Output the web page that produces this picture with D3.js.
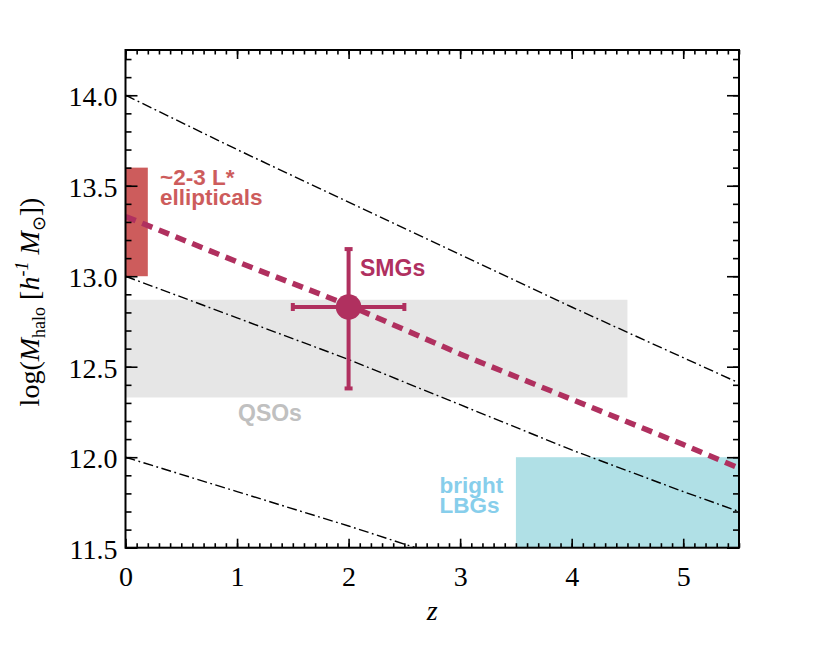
<!DOCTYPE html>
<html><head><meta charset="utf-8">
<script src="https://cdn.jsdelivr.net/npm/d3@7"></script>
<style>body{margin:0;background:#fff}svg{display:block}</style>
</head><body>
<script>
// ---- data ----
const xTickValues = [0, 1, 2, 3, 4, 5];
const yTickValues = [11.5, 12.0, 12.5, 13.0, 13.5, 14.0];
const yTickLabels = ["11.5", "12.0", "12.5", "13.0", "13.5", "14.0"];

const trackZ      = [0, 1, 2, 3, 4, 5, 5.5];
const trackHigh   = [14.0, 13.70, 13.41, 13.12, 12.83, 12.55, 12.41];
const trackMid    = [13.0, 12.77, 12.54, 12.29, 12.04, 11.81, 11.70];
const trackLow    = [12.0, 11.81, 11.62, 11.42, 11.22, 11.02, 10.92];
const smgTrack    = [13.33, 13.08, 12.84, 12.57, 12.32, 12.07, 11.94];

const smgPoint = {z: 2.0, m: 12.83, zLo: 1.5, zHi: 2.5, mLo: 12.38, mHi: 13.15};
const regions = [
  {name: "ellipticals", z0: 0, z1: 0.2, m0: 13.0, m1: 13.6},
  {name: "QSOs", z0: 0, z1: 4.5, m0: 12.33, m1: 12.87},
  {name: "LBGs", z0: 3.5, z1: 5.5, m0: 11.5, m1: 12.0}
];

// ---- layout ----
const W = 830, H = 648;
const x = d3.scaleLinear().domain([0, 5.5]).range([125.5, 739]);
const y = d3.scaleLinear().domain([11.5, 14.25]).range([547.7, 50]);

const svg = d3.select("body").append("svg").attr("width", W).attr("height", H);

svg.append("defs").append("clipPath").attr("id", "clip")
  .append("rect").attr("x", x(0)).attr("y", y(14.25))
  .attr("width", x(5.5) - x(0)).attr("height", y(11.5) - y(14.25));

const plot = svg.append("g").attr("clip-path", "url(#clip)");

const regionColors = {ellipticals: "#cd5c5c", QSOs: "#e6e6e6", LBGs: "#b0e0e6"};
plot.selectAll("rect.region").data(regions).join("rect")
  .attr("class", "region")
  .attr("x", d => x(d.z0)).attr("width", d => x(d.z1) - x(d.z0))
  .attr("y", d => y(d.m1)).attr("height", d => y(d.m0) - y(d.m1))
  .attr("fill", d => regionColors[d.name]);

const line = d3.line().x((d, i) => x(trackZ[i])).y(d => y(d));
[trackHigh, trackMid, trackLow].forEach(t => {
  plot.append("path").datum(t).attr("d", line)
    .attr("fill", "none").attr("stroke", "#000").attr("stroke-width", 1.4)
    .attr("stroke-dasharray", "10,3.5,1.8,3.5");
});
plot.append("path").datum(smgTrack).attr("d", line)
  .attr("fill", "none").attr("stroke", "#b0305f").attr("stroke-width", 5.5)
  .attr("stroke-dasharray", "11,7");

// SMG point with error bars
const smgC = "#b0305f";
const eb = svg.append("g").attr("stroke", smgC).attr("stroke-width", 4);
eb.append("line").attr("x1", x(smgPoint.zLo)).attr("x2", x(smgPoint.zHi))
  .attr("y1", y(smgPoint.m)).attr("y2", y(smgPoint.m));
eb.append("line").attr("x1", x(smgPoint.z)).attr("x2", x(smgPoint.z))
  .attr("y1", y(smgPoint.mLo)).attr("y2", y(smgPoint.mHi));
eb.append("line").attr("x1", x(smgPoint.zLo)).attr("x2", x(smgPoint.zLo))
  .attr("y1", y(smgPoint.m) - 4).attr("y2", y(smgPoint.m) + 4);
eb.append("line").attr("x1", x(smgPoint.zHi)).attr("x2", x(smgPoint.zHi))
  .attr("y1", y(smgPoint.m) - 4).attr("y2", y(smgPoint.m) + 4);
eb.append("line").attr("x1", x(smgPoint.z) - 4).attr("x2", x(smgPoint.z) + 4)
  .attr("y1", y(smgPoint.mLo)).attr("y2", y(smgPoint.mLo));
eb.append("line").attr("x1", x(smgPoint.z) - 4).attr("x2", x(smgPoint.z) + 4)
  .attr("y1", y(smgPoint.mHi)).attr("y2", y(smgPoint.mHi));
svg.append("circle").attr("cx", x(smgPoint.z)).attr("cy", y(smgPoint.m))
  .attr("r", 12.8).attr("fill", smgC);

// labels
const sans = "Liberation Sans, Arial, Helvetica, sans-serif";
function label(lines, xp, yp, color, lh, fs) {
  const t = svg.append("text").attr("font-family", sans).attr("font-weight", "bold")
    .attr("font-size", fs).attr("fill", color);
  lines.forEach((s, i) => t.append("tspan").attr("x", xp).attr("y", yp + i * lh).text(s));
}
label(["~2-3 L*", "ellipticals"], 160, 185, "#cd5c5c", 20, 22.5);
label(["SMGs"], 360, 276, smgC, 20, 23);
label(["QSOs"], 238, 421, "#c0c0c0", 20, 23);
label(["bright", "LBGs"], 439.5, 493, "#87ceeb", 19.6, 22.5);

// ---- axes ----
const serif = "Liberation Serif, Times New Roman, Times, serif";
const minorX = d3.range(0, 5.5001, 0.1).map(v => +v.toFixed(2));
const minorY = d3.range(11.5, 14.2501, 0.1).map(v => +v.toFixed(2));

function styleAxis(g) {
  g.attr("font-family", serif);
  g.select(".domain").remove();
  g.selectAll("line").attr("stroke", "#000").attr("stroke-width", 1.6);
}
// bottom
svg.append("g").attr("transform", `translate(0,${y(11.5)})`)
  .call(d3.axisBottom(x).tickValues(minorX).tickSize(-4.5).tickFormat(""))
  .call(styleAxis);
const bAx = svg.append("g").attr("transform", `translate(0,${y(11.5)})`)
  .call(d3.axisBottom(x).tickValues(xTickValues).tickSize(-9).tickFormat(d3.format("d")))
  .call(styleAxis);
bAx.attr("font-size", 28);
bAx.selectAll("text").attr("fill", "#000").attr("y", 38).attr("dy", 0);
// top
svg.append("g").attr("transform", `translate(0,${y(14.25)})`)
  .call(d3.axisTop(x).tickValues(minorX).tickSize(-4.5).tickFormat(""))
  .call(styleAxis);
svg.append("g").attr("transform", `translate(0,${y(14.25)})`)
  .call(d3.axisTop(x).tickValues(xTickValues).tickSize(-9).tickFormat(""))
  .call(styleAxis);
// left
svg.append("g").attr("transform", `translate(${x(0)},0)`)
  .call(d3.axisLeft(y).tickValues(minorY).tickSize(-6).tickFormat(""))
  .call(styleAxis);
const lAx = svg.append("g").attr("transform", `translate(${x(0)},0)`)
  .call(d3.axisLeft(y).tickValues(yTickValues).tickSize(-12)
    .tickFormat((d, i) => yTickLabels[i]))
  .call(styleAxis);
lAx.attr("font-size", 28);
lAx.selectAll("text").attr("fill", "#000").attr("x", -8).attr("dy", "0.38em");
// right
svg.append("g").attr("transform", `translate(${x(5.5)},0)`)
  .call(d3.axisRight(y).tickValues(minorY).tickSize(-6).tickFormat(""))
  .call(styleAxis);
svg.append("g").attr("transform", `translate(${x(5.5)},0)`)
  .call(d3.axisRight(y).tickValues(yTickValues).tickSize(-12).tickFormat(""))
  .call(styleAxis);

// frame
svg.append("rect").attr("x", x(0)).attr("y", y(14.25))
  .attr("width", x(5.5) - x(0)).attr("height", y(11.5) - y(14.25))
  .attr("fill", "none").attr("stroke", "#000").attr("stroke-width", 2);

// axis titles
svg.append("text").attr("x", (x(0) + x(5.5)) / 2).attr("y", 620)
  .attr("text-anchor", "middle").attr("font-family", serif).attr("font-style", "italic")
  .attr("font-size", 28).text("z");

const yl = svg.append("text").attr("transform", "translate(39,302) rotate(-90)")
  .attr("text-anchor", "middle").attr("font-family", serif).attr("font-size", 28);
yl.append("tspan").text("log(");
yl.append("tspan").attr("font-style", "italic").text("M");
yl.append("tspan").attr("font-size", 18).attr("dy", 6).text("halo");
yl.append("tspan").attr("dy", -6).text(" [");
yl.append("tspan").attr("font-style", "italic").text("h");
yl.append("tspan").attr("font-size", 18).attr("font-style", "italic").attr("dy", -11).text("-1");
yl.append("tspan").attr("dy", 11).text(" ");
yl.append("tspan").attr("font-style", "italic").text("M");
yl.append("tspan").attr("font-size", 18).attr("dy", 6).text("⊙");
yl.append("tspan").attr("dy", -6).text("])");
</script>
</body></html>
